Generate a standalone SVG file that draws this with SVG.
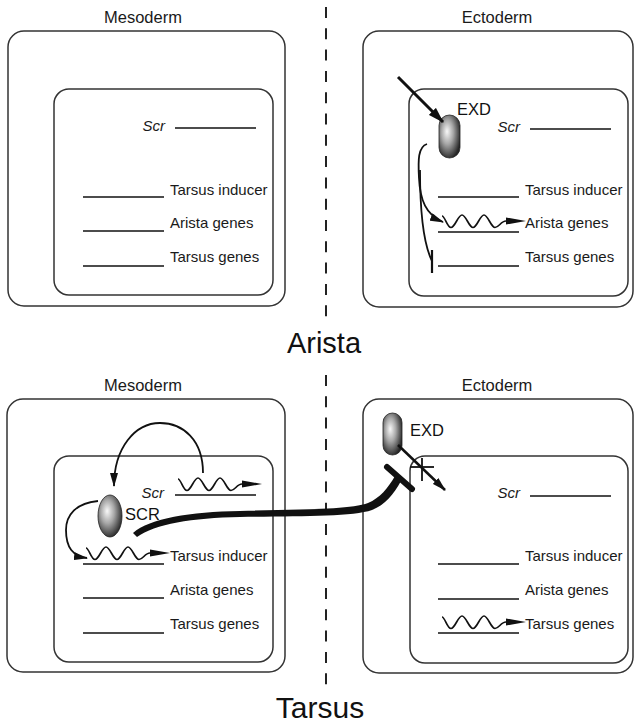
<svg xmlns="http://www.w3.org/2000/svg" xmlns:xlink="http://www.w3.org/1999/xlink" width="636" height="724" viewBox="0 0 636 724">
<style>
  .box{fill:none;stroke:#333;stroke-width:1.5}
  .gene{stroke:#111;stroke-width:1.5;fill:none}
  .lbl{font-family:"Liberation Sans",Arial,sans-serif;font-size:15px;fill:#1a1a1a}
  .scr{font-family:"Liberation Sans",Arial,sans-serif;font-size:15px;font-style:italic;fill:#1a1a1a}
  .tissue{font-family:"Liberation Sans",Arial,sans-serif;font-size:16.5px;fill:#1a1a1a;text-anchor:middle}
  .title{font-family:"Liberation Sans",Arial,sans-serif;font-size:29px;fill:#111;text-anchor:middle}
  .prot{font-family:"Liberation Sans",Arial,sans-serif;font-size:16.5px;fill:#111}
  .link{fill:none;stroke:#111;stroke-width:1.8}
  .divider{stroke:#222;stroke-width:2;stroke-dasharray:11 10.3}
</style>
<defs>
  <radialGradient id="shade" cx="0.42" cy="0.42" r="0.62" fx="0.38" fy="0.38">
    <stop offset="0" stop-color="#f8f8f8"/>
    <stop offset="0.45" stop-color="#a8a8a8"/>
    <stop offset="1" stop-color="#262626"/>
  </radialGradient>
  <marker id="ah" viewBox="0 0 14 8" refX="13" refY="4" markerWidth="14" markerHeight="8" markerUnits="userSpaceOnUse" orient="auto">
    <path d="M0,0 L14,4 L0,8 z" fill="#111"/>
  </marker>
  <marker id="ahBig" viewBox="0 0 16 10" refX="15" refY="5" markerWidth="16" markerHeight="10" markerUnits="userSpaceOnUse" orient="auto">
    <path d="M0,0 L16,5 L0,10 z" fill="#111"/>
  </marker>
  <g id="wave">
    <path d="M0,-5 C3,-5 5,6.5 9,6.5 C13,6.5 16,-6 20,-6 C24,-6 27,6.5 31,6.5 C35,6.5 38,-6 42,-6 C46,-6 49,6.5 53,6.5 C57,6.5 59,0 64,0 L66,0" fill="none" stroke="#111" stroke-width="1.7"/>
    <polygon points="64,-3.5 84,0 64,3.5" fill="#111"/>
  </g>
</defs>

<rect width="636" height="724" fill="#fff"/>

<!-- dividers and titles -->
<g id="divider">
  <line class="divider" x1="326" y1="7" x2="326" y2="320"/>
  <line class="divider" x1="326" y1="375" x2="326" y2="686"/>
</g>
<text class="title" x="324" y="353">Arista</text>
<text class="title" x="320" y="718" style="font-size:30px">Tarsus</text>

<!-- ARISTA: mesoderm -->
<g id="arista-mesoderm">
  <text class="tissue" x="143" y="23">Mesoderm</text>
  <rect class="box" x="8" y="31" width="277" height="275" rx="16"/>
  <rect class="box" x="54" y="89" width="219" height="206" rx="15"/>
  <text class="scr" x="165" y="131" text-anchor="end">Scr</text>
  <line class="gene" x1="175" y1="128" x2="256" y2="128"/>
  <line class="gene" x1="83" y1="197" x2="164" y2="197"/>
  <text class="lbl" x="170" y="195">Tarsus inducer</text>
  <line class="gene" x1="83" y1="231" x2="164" y2="231"/>
  <text class="lbl" x="170" y="228">Arista genes</text>
  <line class="gene" x1="83" y1="266" x2="164" y2="266"/>
  <text class="lbl" x="170" y="262">Tarsus genes</text>
</g>

<!-- ARISTA: ectoderm -->
<g id="arista-ectoderm">
  <text class="tissue" x="497" y="23">Ectoderm</text>
  <rect class="box" x="363" y="31" width="270" height="276" rx="16"/>
  <rect class="box" x="409" y="89" width="219" height="207" rx="15"/>
  <text class="scr" x="520" y="132" text-anchor="end">Scr</text>
  <line class="gene" x1="530" y1="129" x2="611" y2="129"/>
  <line class="gene" x1="438" y1="197" x2="519" y2="197"/>
  <text class="lbl" x="525" y="195">Tarsus inducer</text>
  <line class="gene" x1="438" y1="232" x2="519" y2="232"/>
  <use xlink:href="#wave" href="#wave" x="442" y="221"/>
  <text class="lbl" x="525" y="228">Arista genes</text>
  <line class="gene" x1="438" y1="266" x2="519" y2="266"/>
  <text class="lbl" x="525" y="262">Tarsus genes</text>
</g>
<g id="exd-arista">
  <rect x="439" y="115" width="21" height="43" rx="10.5" fill="url(#shade)" stroke="#222" stroke-width="0.8"/>
  <text class="prot" x="457" y="115">EXD</text>
</g>

<!-- TARSUS: mesoderm -->
<g id="tarsus-mesoderm">
  <text class="tissue" x="143" y="391">Mesoderm</text>
  <rect class="box" x="7" y="399" width="278" height="273" rx="16"/>
  <rect class="box" x="54" y="456" width="219" height="206" rx="15"/>
  <text class="scr" x="164" y="498" text-anchor="end">Scr</text>
  <line class="gene" x1="175" y1="495" x2="256" y2="495"/>
  <use xlink:href="#wave" href="#wave" x="178" y="484"/>
  <line class="gene" x1="83" y1="564" x2="164" y2="564"/>
  <use xlink:href="#wave" href="#wave" x="86" y="553"/>
  <text class="lbl" x="170" y="561">Tarsus inducer</text>
  <line class="gene" x1="83" y1="598" x2="164" y2="598"/>
  <text class="lbl" x="170" y="595">Arista genes</text>
  <line class="gene" x1="83" y1="633" x2="164" y2="633"/>
  <text class="lbl" x="170" y="629">Tarsus genes</text>
</g>
<g id="scr-protein">
  <ellipse cx="110" cy="516" rx="12" ry="21" fill="url(#shade)" stroke="#222" stroke-width="0.8"/>
  <text class="prot" x="125" y="520">SCR</text>
</g>

<!-- TARSUS: ectoderm -->
<g id="tarsus-ectoderm">
  <text class="tissue" x="497" y="391">Ectoderm</text>
  <rect class="box" x="363" y="399" width="270" height="274" rx="16"/>
  <rect class="box" x="410" y="456" width="218" height="207" rx="15"/>
  <text class="scr" x="520" y="498" text-anchor="end">Scr</text>
  <line class="gene" x1="530" y1="496" x2="611" y2="496"/>
  <line class="gene" x1="438" y1="564" x2="519" y2="564"/>
  <text class="lbl" x="525" y="561">Tarsus inducer</text>
  <line class="gene" x1="438" y1="599" x2="519" y2="599"/>
  <text class="lbl" x="525" y="595">Arista genes</text>
  <line class="gene" x1="438" y1="633" x2="519" y2="633"/>
  <use xlink:href="#wave" href="#wave" x="442" y="622"/>
  <text class="lbl" x="525" y="629">Tarsus genes</text>
</g>
<g id="exd-tarsus">
  <rect x="383" y="413" width="19" height="42" rx="9.5" fill="url(#shade)" stroke="#222" stroke-width="0.8"/>
  <text class="prot" x="410" y="436">EXD</text>
</g>

<!-- connectors -->
<g id="connectors">
  <line x1="398" y1="77" x2="443" y2="122" stroke="#111" stroke-width="3" marker-end="url(#ahBig)"/>
  <path class="link" d="M427,144 C418,147 418,160 419,178 C420,200 426,215 443,222" marker-end="url(#ah)"/>
  <path class="link" d="M420,170 C420,215 424,245 432,261"/>
  <line x1="432" y1="250" x2="432" y2="273" stroke="#111" stroke-width="2.2"/>

  <path class="link" d="M203,473 C203,440 183,423 160,423 C135,423 114,448 114,486" marker-end="url(#ah)"/>
  <path class="link" d="M98,501 C76,503 66,515 66,530 C66,548 73,556 87,558" marker-end="url(#ah)"/>
  <path d="M133,533 C150,518 190,512 240,511 C300,509 350,510 368,503 C380,498 388,488 395,476 L401,481 C394,494 385,505 372,510 C352,517 300,516 240,517 C192,518 155,524 137,537 Z" fill="#111"/>
  <line x1="387" y1="467" x2="412" y2="489" stroke="#111" stroke-width="6" stroke-linecap="round"/>
  <line x1="398" y1="445" x2="445" y2="490" stroke="#111" stroke-width="2.5" marker-end="url(#ah)"/>
  <line x1="422" y1="458" x2="422" y2="481" stroke="#111" stroke-width="1.8"/>
  <line x1="410" y1="467" x2="434" y2="467" stroke="#111" stroke-width="1.8"/>
</g>
</svg>
